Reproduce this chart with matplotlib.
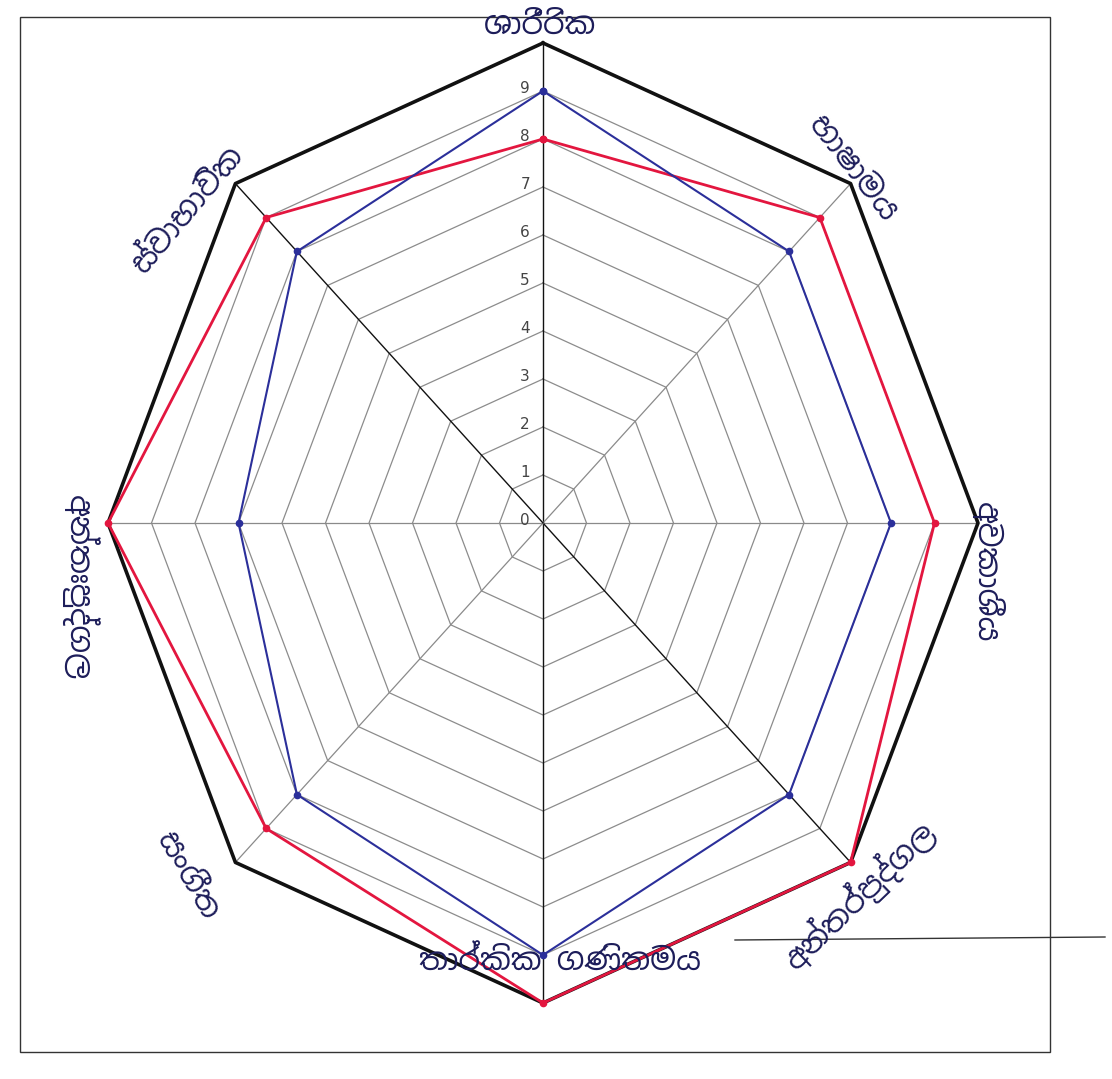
import numpy as np
import matplotlib
matplotlib.use("Agg")
import matplotlib.pyplot as plt
from matplotlib import font_manager
from matplotlib.patches import Rectangle
from matplotlib.lines import Line2D

# axis labels (handwritten Sinhala in the original, best reading)
categories = ["ශාරීරික", "භාෂාමය", "අවකාශීය", "අන්තර්පුද්ගල",
              "තාර්කික ගණිතමය", "සංගීත", "අන්තඃපුද්ගල", "ස්වාභාවික"]
red_vals = [8, 9, 9, 10, 10, 9, 10, 9]
blue_vals = [9, 8, 8, 8, 9, 8, 7, 8]
tick_vals = [0, 1, 2, 3, 4, 5, 6, 7, 8, 9]
r_max = 10

# pick a font that has Sinhala if the box has one
fams = [f.name for f in font_manager.fontManager.ttflist if "Sinhala" in f.name]
label_fam = [fams[0], "DejaVu Sans"] if fams else ["DejaVu Sans"]

W, H = 1112, 1079
fig = plt.figure(figsize=(W / 100, H / 100), dpi=100)
fig.patch.set_facecolor("white")
ax = fig.add_axes([0, 0, 1, 1])
ax.set_axis_off()

# chart centre (px) and unit sizes (px per value), photo is a bit stretched
cx, cy = 543, 523
sx, sy = 43.5, 48.0
ax.set_xlim(-cx / sx, (W - cx) / sx)
ax.set_ylim(-(H - cy) / sy, cy / sy)

n = len(categories)
ang = np.arange(n) * 2 * np.pi / n


def xy(vals):
    v = np.asarray(vals, dtype=float)
    return v * np.sin(ang), v * np.cos(ang)


def closed(a):
    return np.append(a, a[0])


# rings
for t in tick_vals[1:]:
    x, y = xy([t] * n)
    ax.plot(closed(x), closed(y), color="#8c8c8c", lw=0.9, zorder=1)
x, y = xy([r_max] * n)
ax.plot(closed(x), closed(y), color="#111111", lw=2.6, zorder=4)

# spokes
for i in range(n):
    dark = i in (0, 4, 7, 3)
    ax.plot([0, r_max * np.sin(ang[i])], [0, r_max * np.cos(ang[i])],
            color="#111111" if dark else "#8a8a8a", lw=1.0 if dark else 0.9, zorder=2)

# tick labels on the vertical axis
for t in tick_vals:
    ax.text(-0.3, t + 0.05, str(t), ha="right", va="center",
            fontsize=11, color="#444444", zorder=5)

# series
x, y = xy(red_vals)
ax.plot(closed(x), closed(y), color="#e3163f", lw=2.0, marker="o", ms=4.5, zorder=6)
x, y = xy(blue_vals)
ax.plot(closed(x), closed(y), color="#2b2f9a", lw=1.5, marker="o", ms=4.5, zorder=7)

# category labels, placed around the chart like the original
label_pos = [(540, 25, 0), (852, 168, -52), (988, 572, -90), (860, 895, 44),
             (560, 962, 0), (188, 875, -60), (80, 588, -90), (188, 210, 50)]
for name, (px, py, rot) in zip(categories, label_pos):
    fig.text(px / W, 1 - py / H, name, ha="center", va="center", rotation=rot,
             fontsize=22, color="#1d1d5a", family=label_fam)

# outer frame of the printed chart and a stray pen line
fig.add_artist(Rectangle((20 / W, 1 - 1052 / H), 1030 / W, 1035 / H,
                         transform=fig.transFigure, fill=False,
                         edgecolor="#333333", lw=1.0))
fig.add_artist(Line2D([735 / W, 1105 / W], [1 - 940 / H, 1 - 937 / H],
                      transform=fig.transFigure, color="#333333", lw=1.0))

fig.savefig("out.png", dpi=100)
